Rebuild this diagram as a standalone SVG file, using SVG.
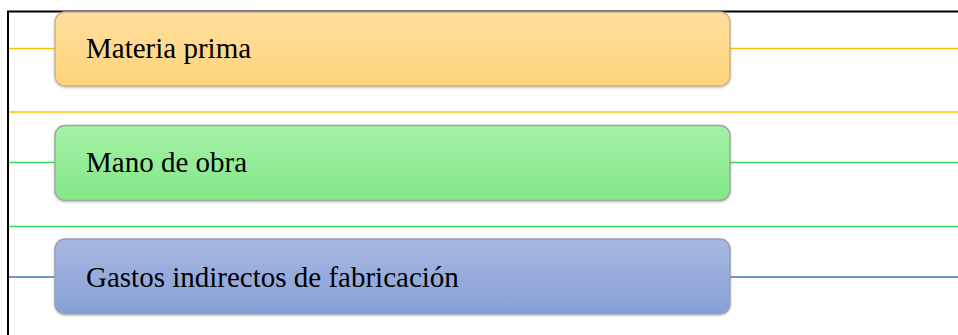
<svg xmlns="http://www.w3.org/2000/svg" width="958" height="335" viewBox="0 0 958 335">
<defs>
<linearGradient id="gy" x1="0" y1="0" x2="0" y2="1"><stop offset="0" stop-color="#FFDD9C"/><stop offset="1" stop-color="#FFD57C"/></linearGradient>
<linearGradient id="gg" x1="0" y1="0" x2="0" y2="1"><stop offset="0" stop-color="#A4F1A6"/><stop offset="1" stop-color="#84E888"/></linearGradient>
<linearGradient id="gb" x1="0" y1="0" x2="0" y2="1"><stop offset="0" stop-color="#A8B8E2"/><stop offset="1" stop-color="#86A0D6"/></linearGradient>
<filter id="sh" x="-5%" y="-10%" width="110%" height="125%"><feDropShadow dx="0" dy="1" stdDeviation="1" flood-color="#000" flood-opacity="0.25"/></filter>
</defs>
<style>
.box{stroke-width:1.5;filter:url(#sh)}
.lbl{font-family:"Liberation Serif","Times New Roman",serif;font-size:29px;fill:#000}
.y{stroke:#FFC000;stroke-width:1.5;fill:none}
.g{stroke:#33DD55;stroke-width:1.5;fill:none}
.b{stroke:#4472C4;stroke-width:1.5;fill:none}
</style>
<rect width="958" height="335" fill="#fff"/>
<path d="M8 335 V11.5 H958" fill="none" stroke="#000" stroke-width="2"/>
<g id="connectors">
<line class="y" x1="9" y1="48.5" x2="55" y2="48.5"/>
<line class="y" x1="730" y1="48.5" x2="958" y2="48.5"/>
<line class="y" x1="9" y1="112" x2="958" y2="112"/>
<line class="g" x1="9" y1="162.5" x2="55" y2="162.5"/>
<line class="g" x1="730" y1="162.5" x2="958" y2="162.5"/>
<line class="g" x1="9" y1="226.5" x2="958" y2="226.5"/>
<line class="b" x1="9" y1="277" x2="55" y2="277"/>
<line class="b" x1="730" y1="277" x2="958" y2="277"/>
</g>
<g id="node-materia">
<rect class="box" x="55" y="12" width="675" height="74" rx="10" fill="url(#gy)" stroke="#C9B48A"/>
<text class="lbl" x="86" y="58">Materia prima</text>
</g>
<g id="node-mano">
<rect class="box" x="55" y="125.5" width="675" height="75" rx="10" fill="url(#gg)" stroke="#9AAA9C"/>
<text class="lbl" x="86" y="172">Mano de obra</text>
</g>
<g id="node-gastos">
<rect class="box" x="55" y="239" width="675" height="75" rx="10" fill="url(#gb)" stroke="#9AA0B0"/>
<text class="lbl" x="86" y="286.5">Gastos indirectos de fabricación</text>
</g>
</svg>
